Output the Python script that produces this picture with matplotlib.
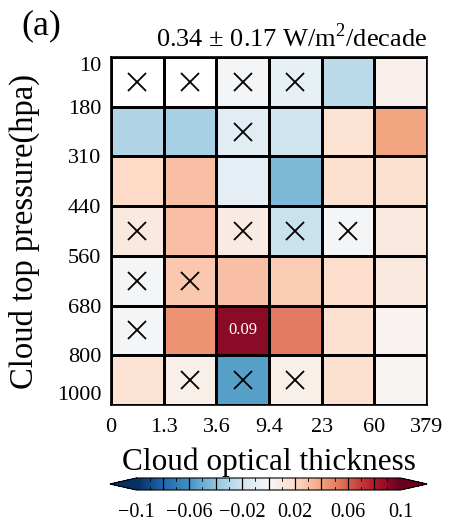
import numpy as np
import matplotlib
matplotlib.use("Agg")
import matplotlib.pyplot as plt

plt.rcParams['font.family'] = ['Liberation Serif', 'DejaVu Serif']
plt.rcParams['mathtext.fontset'] = 'custom'
plt.rcParams['mathtext.rm'] = 'Liberation Serif'

# cloud top pressure bins (top to bottom) and optical thickness bins
pressure_labels = ['10', '180', '310', '440', '560', '680', '800', '1000']
tau_labels = ['0', '1.3', '3.6', '9.4', '23', '60', '379']

# trend per cell, rows from 10 hPa down to 1000 hPa (nan = blank cell)
trend = np.array([
    [np.nan, np.nan, -0.002, -0.008, -0.027, 0.005],
    [-0.030, -0.033, -0.011, -0.020, 0.015, 0.040],
    [0.020, 0.030, -0.010, -0.045, 0.016, 0.016],
    [0.010, 0.030, 0.008, -0.022, -0.002, 0.010],
    [-0.002, 0.027, 0.030, 0.025, 0.018, 0.010],
    [-0.002, 0.045, 0.090, 0.052, 0.016, 0.003],
    [0.015, 0.006, -0.055, 0.006, 0.016, 0.002],
])

# cells marked with a cross
cross = np.array([
    [1, 1, 1, 1, 0, 0],
    [0, 0, 1, 0, 0, 0],
    [0, 0, 0, 0, 0, 0],
    [1, 0, 1, 1, 1, 0],
    [1, 1, 0, 0, 0, 0],
    [1, 0, 0, 0, 0, 0],
    [0, 1, 1, 1, 0, 0],
])

title = '0.34 ± 0.17 W/m$^2$/decade'
vmin, vmax = -0.1, 0.1

fig = plt.figure(figsize=(4.49, 5.22), dpi=100)
ax = fig.add_axes([0.2472, 0.2241, 0.7038, 0.6667])

nrow, ncol = trend.shape
mesh = ax.pcolormesh(np.arange(ncol + 1), np.arange(nrow + 1),
                     np.ma.masked_invalid(trend),
                     cmap='RdBu_r', vmin=vmin, vmax=vmax,
                     edgecolor='k', linewidth=0.8)
# grid lines so blank cells keep their borders
for i in range(1, ncol):
    ax.axvline(i, color='k', lw=0.8)
for j in range(1, nrow):
    ax.axhline(j, color='k', lw=0.8)
ax.set_xlim(0, ncol)
ax.set_ylim(nrow, 0)

rows, cols = np.nonzero(cross)
ax.plot(cols + 0.5, rows + 0.5, 'x', color='k', markersize=13, mew=1.3)

ax.text(2.5, 5.5, '0.09', color='white', ha='center', va='center', fontsize=12)

ax.set_xticks(np.arange(ncol + 1))
ax.set_xticklabels(tau_labels)
ax.set_yticks(np.arange(nrow + 1))
ax.set_yticklabels(pressure_labels)
ax.tick_params(length=0, labelsize=16)
ax.tick_params(axis='x', pad=9)
ax.tick_params(axis='y', pad=7)
ylabs = ax.get_yticklabels()
ylabs[0].set_va('top')
ylabs[-1].set_va('bottom')
for s in ax.spines.values():
    s.set_linewidth(1.2)

ax.set_xlabel('Cloud optical thickness', fontsize=22.5, labelpad=8)
ax.set_ylabel('Cloud top pressure(hpa)', fontsize=23.5, labelpad=12)
ax.set_title(title, fontsize=19, loc='right', pad=7)
fig.text(0.048, 0.95, '(a)', fontsize=26, ha='left', va='center')

# colorbar axes span the triangle tips; the locator shrinks the body
cax = fig.add_axes([0.245, 0.0613, 0.706, 0.023])
cb = fig.colorbar(mesh, cax=cax, orientation='horizontal', extend='both',
                  extendfrac=0.1)
cb.set_ticks([-0.1, -0.06, -0.02, 0.02, 0.06, 0.1])
cb.set_ticklabels(['\u22120.1', '\u22120.06', '\u22120.02', '0.02', '0.06', '0.1'])
cb.ax.tick_params(labelsize=14.5, length=0, pad=9)
for v in np.arange(-0.08, 0.081, 0.02):
    cax.axvline(v, color='k', lw=0.9)
for v in np.arange(-0.09, 0.1, 0.02):
    cax.plot([v, v], [0, 0.25], color='k', lw=0.6, transform=cax.get_xaxis_transform())
    cax.plot([v, v], [0.75, 1], color='k', lw=0.6, transform=cax.get_xaxis_transform())
cb.outline.set_linewidth(0.8)

fig.savefig('out.png', dpi=100)
